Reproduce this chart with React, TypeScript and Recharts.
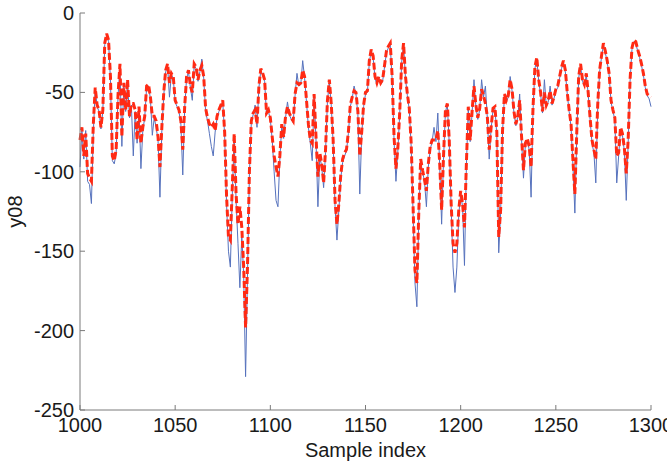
import { LineChart, Line, XAxis, YAxis } from "recharts";

const firstSample = 1000;

// measured output (thin blue)
const actual = [
    -97, -74, -92, -74, -106, -108, -120, -75, -48, -59,
    -62, -73, -62, -20, -14, -18, -42, -93, -95, -88,
    -52, -34, -84, -46, -62, -44, -66, -58, -90, -62,
    -82, -60, -98, -74, -66, -47, -46, -54, -77, -66,
    -72, -80, -116, -74, -52, -37, -33, -53, -39, -41,
    -56, -59, -62, -70, -102, -60, -41, -37, -47, -55,
    -33, -35, -43, -37, -29, -41, -62, -68, -76, -84,
    -90, -75, -66, -62, -59, -56, -77, -120, -150, -160,
    -115, -78, -118, -145, -173, -140, -165, -229, -165, -102,
    -69, -64, -58, -72, -47, -36, -39, -43, -64, -62,
    -67, -80, -100, -118, -122, -92, -71, -79, -66, -56,
    -64, -67, -69, -52, -38, -46, -45, -30, -41, -56,
    -72, -82, -93, -52, -80, -122, -90, -97, -110, -88,
    -56, -43, -58, -82, -122, -143, -124, -104, -94, -90,
    -87, -76, -59, -54, -46, -51, -64, -114, -77, -59,
    -51, -50, -31, -24, -28, -41, -45, -41, -45, -43,
    -34, -25, -22, -20, -42, -80, -106, -87, -63, -31,
    -20, -41, -52, -61, -84, -126, -170, -185, -128, -94,
    -100, -106, -122, -97, -86, -81, -72, -81, -63, -97,
    -133, -92, -62, -58, -82, -122, -160, -176, -160, -127,
    -114, -122, -159, -97, -60, -81, -63, -42, -59, -67,
    -61, -42, -53, -46, -66, -92, -73, -61, -60, -77,
    -151, -126, -75, -52, -56, -53, -40, -49, -63, -71,
    -66, -51, -80, -104, -83, -80, -86, -116, -62, -35,
    -29, -43, -51, -63, -42, -59, -56, -46, -58, -54,
    -49, -47, -41, -35, -31, -37, -51, -62, -72, -96,
    -126, -77, -41, -33, -43, -46, -39, -51, -67, -82,
    -88, -107, -60, -37, -28, -20, -25, -31, -39, -56,
    -62, -67, -107, -90, -73, -77, -87, -118, -82, -43,
    -23, -18, -19, -24, -28, -33, -39, -47, -52, -54,
    -59,
];

// model prediction (red dashed)
const predicted = [
    -80, -72, -90, -76, -101, -104, -106, -70, -47, -58,
    -61, -72, -61, -19, -13, -17, -40, -90, -93, -86,
    -51, -32, -78, -44, -61, -42, -65, -57, -57, -61,
    -80, -59, -82, -72, -65, -46, -45, -53, -65, -65,
    -68, -78, -97, -72, -50, -36, -32, -44, -38, -40,
    -55, -58, -61, -68, -86, -59, -40, -36, -46, -50,
    -32, -34, -42, -36, -33, -40, -60, -66, -70, -72,
    -70, -74, -65, -61, -58, -55, -75, -115, -141, -143,
    -110, -76, -114, -133, -122, -135, -160, -198, -160, -100,
    -68, -63, -61, -70, -46, -35, -38, -42, -63, -61,
    -66, -78, -90, -97, -103, -90, -70, -78, -65, -59,
    -63, -66, -68, -51, -44, -45, -44, -36, -40, -55,
    -70, -80, -82, -51, -78, -103, -88, -95, -107, -86,
    -55, -42, -57, -80, -118, -133, -120, -102, -92, -88,
    -86, -75, -58, -53, -49, -50, -62, -90, -75, -58,
    -50, -49, -30, -23, -27, -40, -44, -40, -44, -42,
    -33, -24, -21, -19, -40, -78, -98, -85, -62, -30,
    -19, -40, -51, -60, -82, -122, -162, -170, -125, -92,
    -99, -105, -112, -95, -84, -80, -80, -80, -74, -95,
    -124, -90, -61, -57, -80, -120, -145, -151, -145, -124,
    -112, -120, -135, -95, -59, -80, -62, -46, -58, -66,
    -60, -48, -52, -57, -65, -86, -72, -60, -59, -75,
    -141, -124, -74, -51, -55, -52, -42, -48, -62, -70,
    -65, -55, -78, -99, -82, -79, -84, -97, -60, -34,
    -28, -42, -50, -62, -50, -58, -55, -49, -57, -53,
    -48, -46, -40, -34, -30, -36, -50, -61, -70, -93,
    -114, -75, -40, -32, -42, -45, -38, -50, -66, -80,
    -86, -92, -58, -36, -27, -19, -24, -30, -38, -55,
    -61, -66, -90, -88, -72, -76, -85, -101, -80, -42,
    -22, -17, -18, -23, -27, -32, -38, -46, -51, -52,
    -53,
];

const xTicks = [1000, 1050, 1100, 1150, 1200, 1250, 1300];
const yTicks = [-250, -200, -150, -100, -50, 0];

const data = actual.map((v, i) => ({
    idx: firstSample + i,
    actual: v,
    predicted: predicted[i],
}));

const FONT = "'Liberation Sans', Arial, sans-serif";
const FRAME = "#7a7a7a";
const TEXT = "#1a1a1a";

// matlab-like inward ticks
const BottomTick = (props: any) => {
    const { x, y, payload } = props;
    return (
        <g>
            <line x1={x} y1={y} x2={x} y2={y - 5} stroke={FRAME} />
            <text x={x} y={y + 22} textAnchor="middle" fontSize={20} fill={TEXT} fontFamily={FONT}>
                {payload.value}
            </text>
        </g>
    );
};

const TopTick = (props: any) => {
    const { x, y } = props;
    return <line x1={x} y1={y} x2={x} y2={y + 5} stroke={FRAME} />;
};

const LeftTick = (props: any) => {
    const { x, y, payload } = props;
    return (
        <g>
            <line x1={x} y1={y} x2={x + 5} y2={y} stroke={FRAME} />
            <text x={x - 6} y={y + 7} textAnchor="end" fontSize={20} fill={TEXT} fontFamily={FONT}>
                {payload.value}
            </text>
        </g>
    );
};

const RightTick = (props: any) => {
    const { x, y } = props;
    return <line x1={x} y1={y} x2={x - 5} y2={y} stroke={FRAME} />;
};

export default function App() {
    return (
        <div style={{ position: "absolute", left: 0, top: 0, width: 667, height: 468, background: "#fff" }}>
            <LineChart
                width={667}
                height={468}
                data={data}
                margin={{ top: 13, right: 16, bottom: 0, left: 0 }}
            >
                <XAxis
                    xAxisId="bottom"
                    dataKey="idx"
                    type="number"
                    domain={[1000, 1300]}
                    ticks={xTicks}
                    interval={0}
                    height={58}
                    tickSize={0}
                    tickMargin={0}
                    tickLine={false}
                    tick={<BottomTick />}
                    axisLine={{ stroke: FRAME }}
                    label={{
                        value: "Sample index",
                        position: "insideBottom",
                        offset: 11,
                        fontSize: 20,
                        fill: TEXT,
                        fontFamily: FONT,
                    }}
                />
                <XAxis
                    xAxisId="top"
                    orientation="top"
                    dataKey="idx"
                    type="number"
                    domain={[1000, 1300]}
                    ticks={xTicks}
                    interval={0}
                    height={0}
                    tickSize={0}
                    tickMargin={0}
                    tickLine={false}
                    tick={<TopTick />}
                    axisLine={{ stroke: FRAME }}
                />
                <YAxis
                    yAxisId="left"
                    domain={[-250, 0]}
                    ticks={yTicks}
                    interval={0}
                    width={80}
                    tickSize={0}
                    tickMargin={0}
                    tickLine={false}
                    tick={<LeftTick />}
                    axisLine={{ stroke: FRAME }}
                    label={{
                        value: "y08",
                        angle: -90,
                        position: "insideLeft",
                        offset: 15,
                        textAnchor: "middle",
                        fontSize: 20,
                        fill: TEXT,
                        fontFamily: FONT,
                    }}
                />
                <YAxis
                    yAxisId="right"
                    orientation="right"
                    domain={[-250, 0]}
                    ticks={yTicks}
                    interval={0}
                    width={0}
                    tickSize={0}
                    tickMargin={0}
                    tickLine={false}
                    tick={<RightTick />}
                    axisLine={{ stroke: FRAME }}
                />
                <Line
                    xAxisId="bottom"
                    yAxisId="left"
                    type="linear"
                    dataKey="actual"
                    stroke="#5672bd"
                    strokeWidth={1}
                    dot={false}
                    isAnimationActive={false}
                />
                <Line
                    xAxisId="bottom"
                    yAxisId="left"
                    type="linear"
                    dataKey="predicted"
                    stroke="#ff2a14"
                    strokeWidth={3}
                    strokeDasharray="7 3"
                    dot={false}
                    isAnimationActive={false}
                />
            </LineChart>
        </div>
    );
}
